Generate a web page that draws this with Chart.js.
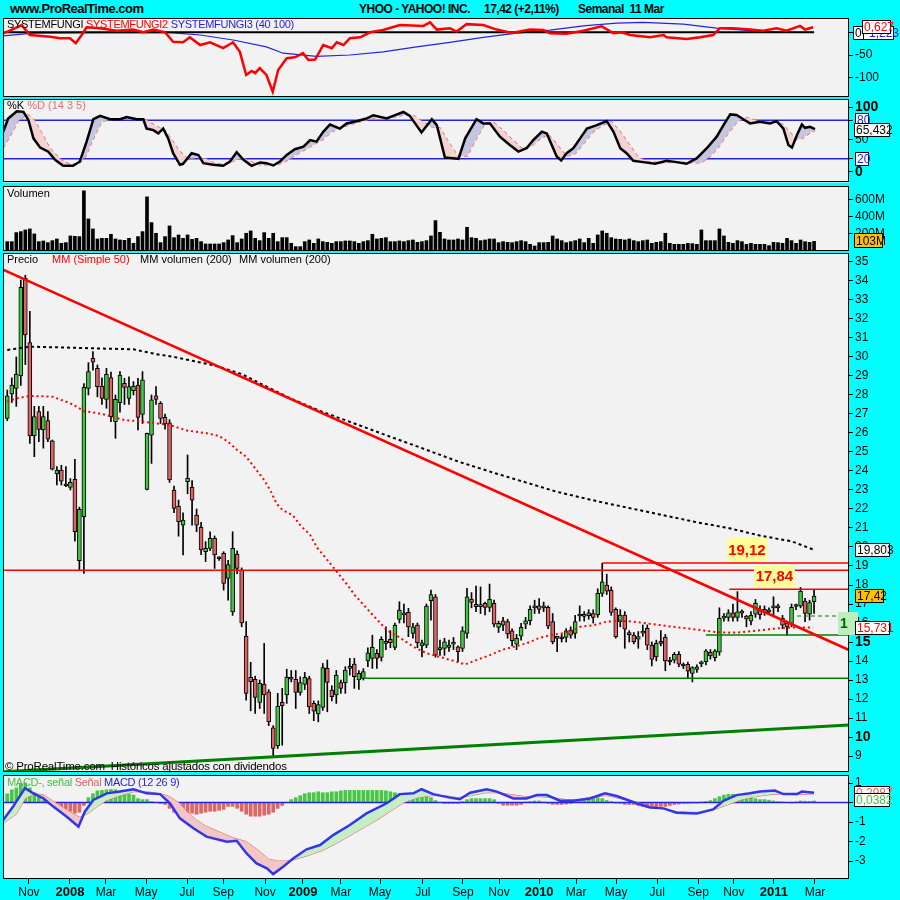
<!DOCTYPE html>
<html lang="es">
<head>
<meta charset="UTF-8">
<title>YHOO - YAHOO! INC. Semanal</title>
<script src="https://cdn.jsdelivr.net/npm/chart.js"></script>
<style>
  html, body { margin: 0; padding: 0; }
  body { background: #00ffff; width: 900px; height: 900px; position: relative; overflow: hidden;
         font-family: Arial, "Liberation Sans", sans-serif; }
  canvas { position: absolute; left: 0; }
  .lbl { position: absolute; white-space: pre; font-size: 11px; line-height: 13px; z-index: 5; }
  .tight { letter-spacing: -0.3px; }
  .hdr { position: absolute; top: 1px; white-space: pre; font-weight: bold; font-size: 12px;
         line-height: 16px; letter-spacing: -0.5px; }
</style>
</head>
<body>
<div class="hdr" style="left:10px;font-size:13px">www.ProRealTime.com</div>
<div class="hdr" style="left:359px">YHOO - YAHOO! INC.</div>
<div class="hdr" style="left:484px">17,42 (+2,11%)</div>
<div class="hdr" style="left:578px">Semanal  11 Mar</div>

<canvas id="cFungi" width="900" height="99" style="top:8px"></canvas>
<canvas id="cStoch" width="900" height="104" style="top:89px"></canvas>
<canvas id="cVol" width="900" height="85" style="top:176px"></canvas>
<canvas id="cPrice" width="900" height="539" style="top:243px"></canvas>
<canvas id="cMacd" width="900" height="135" style="top:765px"></canvas>

<div class="lbl tight" style="left:7px;top:18px">SYSTEMFUNGI <span style="color:#ff0000">SYSTEMFUNGI2</span> <span style="color:#2424e0">SYSTEMFUNGI3 (40 100)</span></div>
<div class="lbl" style="left:7px;top:99px">%K <span style="color:#e07070">%D (14 3 5)</span></div>
<div class="lbl" style="left:7px;top:187px">Volumen</div>
<div class="lbl" style="left:7px;top:253px">Precio</div>
<div class="lbl" style="left:52px;top:253px;color:#ff0000">MM (Simple 50)</div>
<div class="lbl" style="left:140px;top:253px">MM volumen (200)</div>
<div class="lbl" style="left:239px;top:253px">MM volumen (200)</div>
<div class="lbl" style="left:5px;top:760px;font-size:11.5px;letter-spacing:-0.2px">© ProRealTime.com  Históricos ajustados con dividendos</div>
<div class="lbl tight" style="left:7px;top:776px"><span style="color:#40c040">MACD-, señal</span> <span style="color:#e06060">Señal</span> <span style="color:#2424e0">MACD (12 26 9)</span></div>

<script>
// weekly candles, index 0 = first week of Oct 2007, index 179 = week of 7 Mar 2011
const opens = [
  26.77,28.05,28.35,29.0,34.14,30.75,25.84,27.12,26.16,26.65,
  25.58,23.84,24.05,23.26,23.14,23.56,19.28,21.6,28.35,29.93,
  29.4,28.47,27.77,28.91,26.6,27.6,28.61,27.82,28.23,28.52,
  26.98,23.03,25.89,27.95,27.56,26.82,26.54,23.0,22.15,21.15,
  23.44,23.14,21.68,21.03,19.75,19.93,20.45,19.42,19.66,18.35,
  16.59,19.63,18.79,15.31,13.14,13.03,11.82,12.79,12.38,10.49,
  9.54,11.82,12.21,13.14,13.03,12.35,12.77,13.08,11.77,11.21,
  11.56,13.61,12.47,12.21,12.86,12.86,13.61,13.84,13.0,13.08,
  14.0,14.14,14.4,14.19,14.93,15.14,14.72,16.19,16.43,16.56,
  15.45,15.89,14.8,14.84,17.17,17.38,14.6,14.66,14.71,14.89,
  14.75,14.66,15.45,17.26,16.98,16.86,17.03,16.82,17.03,15.77,
  16.12,16.07,15.59,14.89,15.31,15.94,16.12,16.8,16.91,16.8,
  16.82,16.07,15.19,15.19,15.24,15.63,15.45,16.37,16.37,16.38,
  16.5,16.42,17.56,17.99,17.73,16.72,16.07,16.42,15.42,15.36,
  15.15,15.46,15.72,14.84,14.22,14.95,15.25,13.97,14.05,14.35,
  13.83,13.83,13.35,13.56,13.85,13.97,14.46,14.18,14.46,16.25,
  16.3,16.54,16.29,16.54,16.37,16.1,16.47,16.68,16.59,16.59,
  16.8,16.82,16.24,15.98,15.98,16.87,16.89,17.15,16.47,17.12
];
const highs = [
  28.26,28.9,30.0,34.05,34.3,32.4,27.4,27.4,27.4,27.12,
  25.63,24.23,24.3,24.23,23.6,24.61,22.1,28.6,29.7,30.28,
  29.58,28.9,29.4,29.2,28.0,29.23,28.88,28.96,28.7,28.88,
  29.23,26.0,28.0,28.44,27.65,27.0,26.7,23.2,22.47,21.8,
  24.84,23.5,22.0,21.3,20.28,20.8,20.58,19.5,19.75,19.3,
  20.8,19.8,18.9,16.07,13.93,13.2,13.0,14.93,12.5,10.6,
  12.3,12.56,13.57,13.5,13.5,13.17,13.4,13.2,11.9,11.9,
  13.87,14.05,12.7,13.5,13.0,13.7,14.14,14.14,13.5,13.6,
  14.7,15.36,14.6,15.28,15.8,15.6,16.0,17.12,17.0,16.77,
  15.98,16.0,15.1,17.0,17.73,17.5,15.1,15.2,15.1,15.24,
  14.8,15.8,17.82,17.6,17.94,17.9,17.1,18.05,17.2,16.1,
  16.3,16.2,15.7,15.4,15.98,16.3,16.9,17.2,17.29,17.1,
  16.9,16.5,15.3,15.4,15.7,15.8,16.4,16.9,16.6,16.7,
  16.7,17.8,19.14,18.57,17.9,16.8,16.7,16.6,15.6,15.5,
  15.55,15.9,15.9,15.0,15.1,15.6,15.4,14.2,14.45,14.5,
  13.9,13.95,13.7,13.8,14.0,14.6,14.6,14.6,16.8,16.5,
  16.7,17.0,17.65,16.7,16.4,16.6,17.24,16.9,16.9,16.8,
  17.38,17.0,16.4,16.1,17.0,17.0,17.87,17.3,17.2,17.77
];
const lows = [
  26.65,27.6,27.4,28.5,29.6,25.45,24.75,25.54,25.2,25.54,
  24.05,23.26,23.26,23.17,23.0,20.3,18.79,18.61,28.0,29.3,
  27.9,27.5,27.3,26.6,25.72,27.1,27.5,27.5,28.0,26.16,
  26.5,23.0,24.4,27.5,26.5,26.2,23.4,21.8,20.57,19.58,
  22.8,21.15,20.8,19.6,19.23,19.8,18.87,19.3,17.73,17.2,
  16.4,18.6,15.8,11.94,11.38,11.24,11.5,11.24,10.6,8.96,
  9.4,9.57,11.77,12.9,11.5,12.2,12.5,11.24,10.86,10.8,
  11.4,11.33,11.9,11.77,12.3,12.3,13.26,12.56,12.5,13.0,
  13.7,13.61,13.61,14.0,14.6,14.7,14.6,16.0,16.0,15.28,
  15.2,14.7,14.22,14.7,16.15,14.2,14.3,14.3,14.5,14.6,
  13.96,14.5,15.2,16.8,16.6,16.5,16.42,16.6,15.8,15.5,
  15.6,15.2,14.8,14.6,15.1,15.7,15.9,16.5,16.5,16.6,
  15.7,14.9,14.49,15.0,15.0,15.2,15.2,16.1,16.1,16.2,
  16.0,16.3,17.4,17.5,16.4,15.2,15.8,14.67,15.0,14.9,
  14.67,15.3,14.6,13.74,14.0,14.8,13.49,13.8,13.9,13.7,
  13.6,13.09,12.9,13.4,13.7,13.8,14.1,14.0,14.3,16.1,
  16.1,16.1,16.1,16.3,15.8,15.9,16.3,16.2,16.4,16.5,
  16.33,16.6,15.7,15.36,15.8,16.7,16.8,16.07,16.15,16.5
];
const closes = [
  27.95,28.52,29.1,33.67,31.16,25.84,26.86,26.19,26.86,25.67,
  24.09,24.05,23.47,23.21,23.4,20.8,21.98,28.4,29.23,29.72,
  28.44,27.82,29.09,26.86,27.77,29.05,28.4,28.44,28.47,26.82,
  28.79,25.98,27.74,27.77,26.77,26.47,23.53,22.03,21.33,21.42,
  23.61,22.47,21.15,19.84,19.93,20.45,19.58,19.38,18.08,19.08,
  19.93,18.87,16.01,12.29,12.91,12.08,12.82,12.21,10.8,9.4,
  11.63,11.65,13.14,13.05,12.35,12.86,13.14,11.59,11.36,11.71,
  13.66,12.87,12.12,13.26,12.56,13.52,13.63,13.17,13.35,13.44,
  14.43,14.72,14.14,15.14,14.95,14.96,15.89,16.68,16.45,15.8,
  15.8,14.96,14.96,16.89,17.5,14.31,14.62,15.01,14.84,14.91,
  14.49,15.59,17.38,17.08,16.86,16.88,16.82,17.24,15.94,15.98,
  15.89,15.42,15.07,15.19,15.77,16.12,16.72,16.82,16.72,16.82,
  15.84,15.01,15.21,15.17,15.59,15.36,16.07,16.39,16.35,16.54,
  16.3,17.56,18.17,17.68,16.56,15.28,16.42,15.67,15.39,15.02,
  15.28,15.58,14.84,14.09,14.93,14.93,14.0,13.95,14.35,13.83,
  13.74,13.47,13.65,13.7,13.86,14.53,14.27,14.53,16.25,16.37,
  16.54,16.3,16.59,16.52,16.21,16.4,17.03,16.42,16.72,16.68,
  16.82,16.8,15.89,15.8,16.82,16.89,17.68,16.5,17.07,17.42
];
// volume in millions
const volumes = [
  100,100,208,220,240,252,192,100,108,88,
  112,132,80,88,168,164,160,708,372,252,
  132,140,140,188,132,120,116,140,80,160,
  220,636,328,200,88,160,288,148,180,140,
  180,128,140,100,72,72,72,72,88,120,
  172,88,132,200,228,140,112,208,140,200,
  100,148,148,80,40,40,100,120,80,132,
  100,92,80,100,100,108,108,100,80,100,
  112,188,132,140,148,100,100,108,100,112,
  120,92,100,112,168,352,212,132,120,120,
  132,120,272,148,140,112,120,132,132,88,
  100,92,88,100,112,100,68,48,88,88,
  92,168,132,112,88,100,112,132,88,140,
  80,180,228,200,148,132,128,120,132,112,
  100,112,120,80,92,100,200,80,68,68,
  68,80,76,68,240,112,112,112,252,168,
  92,80,112,100,68,80,68,68,68,52,
  92,88,80,140,112,80,120,100,92,103
];
// MACD histogram (MACD - signal), one bar per week
const hist = [
  0.45,0.65,0.75,0.95,1.0,0.75,0.5,0.3,0.1,0.05,
  -0.05,-0.1,-0.25,-0.35,-0.45,-0.55,-0.5,-0.15,0.25,0.45,
  0.6,0.62,0.65,0.67,0.65,0.6,0.5,0.43,0.38,0.2,
  0.15,0.15,0.05,0,-0.05,-0.1,-0.3,-0.5,-0.6,-0.6,
  -0.55,-0.55,-0.6,-0.55,-0.5,-0.45,-0.45,-0.4,-0.35,-0.2,
  -0.2,-0.3,-0.45,-0.6,-0.7,-0.7,-0.7,-0.65,-0.6,-0.5,
  -0.3,-0.15,0,0.15,0.25,0.35,0.45,0.5,0.5,0.55,
  0.5,0.5,0.55,0.55,0.6,0.62,0.62,0.62,0.62,0.62,
  0.62,0.62,0.62,0.62,0.6,0.55,0.5,0.45,0.4,0.35,
  0.3,0.3,0.35,0.3,0.25,0.1,0,-0.05,-0.05,-0.05,
  -0.05,0.05,0.15,0.2,0.2,0.2,0.2,0.2,0.15,-0.05,
  -0.14,-0.14,-0.14,-0.14,-0.1,0.03,0.05,0.08,0.08,0.03,
  -0.05,-0.1,-0.1,-0.1,-0.08,-0.05,0.03,0.05,0.1,0.15,
  0.2,0.25,0.2,0.1,0.05,-0.03,-0.05,-0.1,-0.1,-0.1,
  -0.15,-0.2,-0.25,-0.25,-0.25,-0.2,-0.2,-0.15,-0.1,-0.08,
  -0.05,-0.05,-0.03,-0.03,0.03,0.05,0.1,0.2,0.3,0.38,
  0.42,0.42,0.4,0.35,0.3,0.25,0.2,0.15,0.15,0.12,
  0.08,0.05,0.03,0,-0.02,0.03,0.08,0.06,0.06,0.08
];

// moving averages (week index, value)
const ma50Idx = [0,2,5,10,14,17,21,26,30,36,40,44,47,49,51,53,55,57,58.5,59.8,61.1,63.3,65,67.2,68.7,70.9,73.1,75.3,77.1,79.4,82,84.2,87.1,90.1,93.1,95.3,99,101.6,104.1,107.1,109.7,112.3,115.2,117.8,120.4,123,125.6,127.1,130.1,133,136,138.9,141.9,144.8,147.8,150.7,153.7,156.6,159.6,162.6,165.5,168.5,171.4,174.4,178.8];
const ma50Val = [27.65,27.82,27.95,27.91,27.56,27.16,27.0,26.68,26.6,26.42,26.12,26.0,25.84,25.54,25.1,24.75,24.14,23.52,22.91,22.26,21.94,21.68,21.15,20.63,19.98,19.35,18.7,18.05,17.47,16.86,16.19,15.63,15.23,14.75,14.4,14.26,14.01,13.82,14.05,14.31,14.58,14.75,14.93,15.19,15.36,15.45,15.6,15.8,15.89,16.07,16.12,16.07,15.98,15.89,15.8,15.72,15.63,15.54,15.49,15.51,15.58,15.66,15.73,15.77,15.77];
const ma200Idx = [0,5,12,20,28,33,37,41,46,52,57,63,70,77,85,92,100,108,115,122,131,137,145,153,160,167,174,178.8];
const ma200Val = [30.37,30.54,30.5,30.45,30.4,30.15,30.0,29.8,29.55,29.1,28.5,27.8,27.1,26.5,25.8,25.2,24.5,23.9,23.4,22.9,22.4,22.1,21.7,21.3,21.0,20.6,20.3,19.87];

// drawn lines on the price panel
const trendRedIdx = [-0.95, 186.75], trendRedVal = [34.6, 14.58];
const trendGreenIdx = [-0.95, 186.75], trendGreenVal = [8.17, 10.63];
const levelVal  = [18.78, 19.16, 17.78, 13.09, 15.37, 16.37];
const levelFrom = [-0.95, 132, 160.2, 79.4, 155, 175.2];

// SYSTEMFUNGI panel
const f1Idx = [-0.95, 179], f1Val = [0, 0];
const f2Idx = [-0.9,0.6,3.2,5,9.5,11.7,13.9,15.2,16.5,17.6,20.6,24.3,27.9,30.2,32.4,35,36.8,39,40.5,42.8,45,47.9,50.1,51.6,53,54.2,55,56,57.5,58.9,60.1,62,63.8,65.6,66.8,68.3,70.1,72,73.1,74.6,76,78.3,80.5,83.4,87.1,92.3,93.8,95.3,98.2,99.7,101.9,105.6,108.6,111.9,116,118.9,120.4,124.1,127.8,131.9,134.5,136.3,138.2,142.6,145.6,146.3,150.7,153.7,156.6,158.1,161.1,164.8,167.7,170.7,172.9,175.9,177,178.8];
const f2Val = [-2,3.5,16,-6,-10,-13,-13,-24,-6,11,9,3.5,6,0,6,0,-21,-22,-11,-28,-22,-35,-22,-43,-94,-85,-90,-79,-94,-131,-83,-57,-55,-46,-61,-60,-28,-35,-22,-28,-13,-11,0,5,16,14,22,6,9,1.5,18,16,6,-1.5,6,5,-2,-3,3.5,13,-2,0,-6,-11,-6,-11,-15,-11,-6,9,9,6,3.5,9,3.5,14,6,11];
const f3Idx = [-0.9,5.7,20.6,35.4,42.8,50.1,57.5,61.2,68.6,76,83.4,90.8,98.2,105.6,113,120.4,127.8,135.2,141.1,150,157.4,164.8,172.2,179];
const f3Val = [-8,-2,-1,0,-6,-17,-32,-46,-53,-50,-43,-32,-22,-11,-2,5,14,20,22,18,9,3.5,0,0];

// stochastic %K / %D
const kIdx = [-0.9,0.2,2.1,3.6,4.7,5.8,7.3,9.1,10.6,12.4,14.6,16.1,17.6,19.1,20.6,22.8,25,26.5,28.7,30.2,30.9,32.4,33.5,34.6,35.7,36.8,38.3,39,40.9,42.4,43.5,45.7,47.9,49.4,50.9,52.4,54.2,56.1,57.5,59,60.5,62,63.8,65.7,67.2,68.6,70.1,71.6,73.8,75.3,77.5,79.7,81.2,84.2,85.6,87.9,89.3,91.9,94.2,95.3,97.1,98.2,100.1,101.6,104.1,105.6,107.1,109.3,111.5,113.4,115.2,116.7,118.6,119.7,121.9,122.9,124.1,125.6,127.1,128.6,130.8,133,134.5,136,137.4,138.9,141.1,143.7,146.3,148.5,150.7,153,155.2,157.4,158.9,160.4,161.8,163.3,164.8,167,169.2,170.7,172.2,173.3,174.1,175.2,176.3,177,178.1,179.2];
const kVal = [62,82.6,93.8,93,80,51.8,37.4,31,18.5,9.2,9.2,15.9,46.7,81.5,86.7,81.5,81.5,85,81.5,81.5,67,64.6,59.5,67,51.8,28.7,10.8,12.3,28.7,26,13.3,10.8,9.2,15.9,30.3,18.5,9.2,14.4,13.3,9.7,15.9,26,34.9,38.9,49.2,46.7,62,73.3,67,75,78.5,82.6,87.7,82.6,86.7,92.8,86.7,61,81.5,72.3,22,21.5,20,51.8,81.5,75,75,54.4,41.5,31.3,36.5,49.2,62,59.5,23.6,17.4,28.7,36.5,51.8,67,72.3,78.5,62,36.5,28.7,17,14.9,12.3,17,14.9,12.3,21,36.5,54.4,72.3,89,88,81.5,75,77.4,75,78.5,67,41.5,37.4,57,73.3,68.2,69.7,66.2];
const dIdx = [-0.9,1,2.5,4.5,6,7.5,9.5,12,14,16,17.5,19,21,23.5,26,28.5,30.5,32.5,35,36.5,38,40,42,44,46,48,50,52,54,56,58,60,62,64,66,68,70,72,74,76,78,80,82,84,86,88,90,92,94,96,98,100,102,104,106,108,110,112,114,116,118,120,122,124,126,128,130,132,134,136,138,140,142,145,148,151,154,156,158,160,162,164,166,168,170,172,173.5,175,176.5,178,179.2];
const dVal = [37,60,80,89,80,62,36,18,11,13,25,50,78,81,82,83,81,73,64,50,33,20,22,20,13,11,16,22,16,11,11,11,17,26,34,42,50,62,68,73,77,81,84,84,85,88,88,78,70,68,45,24,24,50,75,76,64,50,37,38,50,58,42,24,28,45,62,72,78,62,42,22,16,14,15,14,14,24,40,60,78,84,80,77,77,74,62,50,52,60,64];

// MACD line and signal
const macdIdx = [-0.9,1.3,3.9,5.8,8,10.2,13.2,15.8,17.2,19.1,22.1,25,28,30.9,33.9,36.1,38.3,41.3,44.2,48.7,50.9,53.1,55.3,57.6,59,61.2,63.5,66.4,69.4,72.3,76,79.7,84.2,87.1,90.1,91.9,94.5,98.2,100.4,102.7,106.4,108.6,112.3,115.2,117.5,119.7,122.6,125.6,129.3,132.6,135.2,139.6,142.6,145.6,148.5,153,156.6,158.9,161.8,164.8,167,170.3,172.2,175.2,176.3,179];
const macdVal = [-0.9,-0.21,0.73,0.47,0.21,-0.21,-0.73,-1.24,-0.47,0.13,0.47,0.56,0.68,0.47,0.43,-0.04,-0.81,-1.32,-1.75,-2.01,-1.96,-2.61,-3.12,-3.37,-3.67,-3.29,-2.86,-2.4,-2.18,-1.67,-1.15,-0.56,-0.04,0.43,0.47,0.68,0.43,0.25,0.17,0.5,0.68,0.56,0.21,0.21,0.38,0.38,0.09,0.09,0.21,0.47,0.33,-0.04,-0.25,-0.3,-0.52,-0.56,-0.35,0.09,0.38,0.47,0.56,0.61,0.43,0.43,0.56,0.5];
const sigIdx = [-0.9,2,4,6,8,10,12,14,16,18,20,22,25,28,31,34,36,38,40,42,44,47,50,53,56,58,60,62,64,67,70,73,76,79,82,85,88,91,94,97,100,103,106,109,112,115,118,121,124,127,130,133,136,139,142,145,148,151,154,157,160,163,166,169,172,175,177,179];
const sigVal = [-1.07,-0.6,0.2,0.45,0.4,0.1,-0.2,-0.5,-0.75,-0.55,-0.2,0.1,0.35,0.55,0.55,0.45,0.3,0,-0.5,-0.9,-1.2,-1.5,-1.8,-2.0,-2.5,-2.9,-3.0,-3.0,-2.9,-2.7,-2.45,-2.1,-1.7,-1.3,-0.9,-0.45,0,0.25,0.35,0.35,0.25,0.35,0.5,0.5,0.4,0.3,0.3,0.25,0.15,0.15,0.3,0.35,0.2,0.05,-0.15,-0.3,-0.45,-0.5,-0.5,-0.35,-0.1,0.15,0.3,0.4,0.45,0.4,0.42,0.45];

// x axis labels
const tickPos = [4.8,13.9,21.9,30.8,39.9,47.9,57.2,65.6,74.0,82.7,92.2,101.1,109.1,118.0,126.2,135.1,144.2,153.3,161.2,170.1,179.2];
const tickLabels = ['Nov','2008','Mar','May','Jul','Sep','Nov','2009','Mar','May','Jul','Sep','Nov','2010','Mar','May','Jul','Sep','Nov','2011','Mar'];

// ---------------------------------------------------------------
const FONT = 'Arial, "Liberation Sans", sans-serif';
Chart.defaults.font.family = FONT;
Chart.defaults.font.size = 12;
Chart.defaults.color = '#000';

const X_MIN = -0.95, X_MAX = 186.75;
const UP = '#40c640', DOWN = '#dc6464';
const weeks = closes.map((c, i) => i);
const pts = (xs, ys) => xs.map((x, k) => ({ x, y: ys[k] }));
const hline = (v, from) => [{ x: from === undefined ? X_MIN : from, y: v }, { x: X_MAX, y: v }];
const tickVal = c => (c && c.tick) ? c.tick.value : null;

// panel background, border, value tags on the right and yellow notes
function makeFrame(tags, notes) {
  return {
    id: 'frame',
    beforeDraw(chart) {
      const { ctx, chartArea: a } = chart;
      ctx.save();
      ctx.fillStyle = '#f2f2f2';
      ctx.fillRect(a.left, a.top, a.width, a.height);
      ctx.restore();
    },
    afterDraw(chart) {
      const { ctx, chartArea: a } = chart;
      const xs = chart.scales.x, ys = chart.scales.y;
      ctx.save();
      (notes || []).forEach(n => {
        const px = xs.getPixelForValue(n.i), py = ys.getPixelForValue(n.v);
        ctx.fillStyle = '#ffff99';
        ctx.fillRect(Math.round(px - n.w / 2), Math.round(py - n.h / 2), n.w, n.h);
        ctx.fillStyle = '#ff0000';
        ctx.font = 'bold 15px ' + FONT;
        ctx.textAlign = 'center';
        ctx.textBaseline = 'middle';
        ctx.fillText(n.text, px, py + 1);
      });
      ctx.strokeStyle = '#000';
      ctx.lineWidth = 1;
      ctx.strokeRect(Math.round(a.left) + 0.5, Math.round(a.top) + 0.5,
                     Math.round(a.width) - 1, Math.round(a.height) - 1);
      (tags || []).forEach(t => {
        const h = t.h || 14;
        const py = Math.round(ys.getPixelForValue(t.v) - h / 2);
        ctx.fillStyle = t.fill || '#ffffff';
        ctx.fillRect(t.x, py, t.w, h);
        if (!t.noBorder) {
          ctx.strokeStyle = '#000';
          ctx.strokeRect(t.x + 0.5, py + 0.5, t.w - 1, h - 1);
        }
        ctx.fillStyle = t.color || '#000';
        ctx.font = (t.bold ? 'bold ' : '') + (t.size || 12) + 'px ' + FONT;
        ctx.textAlign = 'left';
        ctx.textBaseline = 'middle';
        ctx.fillText(t.text, t.x + 2, py + h / 2 + 1);
      });
      ctx.restore();
    }
  };
}

function yAxis(min, max, values, fmt, font, color) {
  return {
    position: 'right', min, max,
    afterFit: s => { s.width = 51; },
    afterBuildTicks: s => { s.ticks = values.map(v => ({ value: v })); },
    grid: { drawOnChartArea: false, drawTicks: true, tickLength: 4, color: '#000', offset: false },
    border: { display: false },
    ticks: { autoSkip: false, padding: 2, callback: fmt, font: font || { size: 12 }, color: color || '#000' }
  };
}

function panel(id, cfg) {
  const xScale = { type: 'linear', min: X_MIN, max: X_MAX, offset: false, display: false,
                   grid: { offset: false } };
  if (cfg.xAxis) {
    Object.assign(xScale, {
      display: true, position: 'bottom',
      afterFit: s => { s.height = 21; },
      afterBuildTicks: s => { s.ticks = tickPos.map(v => ({ value: v })); },
      grid: { display: true, drawOnChartArea: false, drawTicks: true, tickLength: 5,
              tickWidth: 1, tickColor: '#000', color: '#000', offset: false },
      border: { display: false },
      ticks: {
        autoSkip: false, maxRotation: 0, minRotation: 0, padding: 1, color: '#000',
        callback: (v, i) => tickLabels[i],
        font: c => (c && c.index !== undefined && /^\d{4}$/.test(tickLabels[c.index]))
          ? { size: 13, weight: 'bold' } : { size: 12 }
      }
    });
  }
  return new Chart(document.getElementById(id), {
    type: 'line',
    data: { datasets: cfg.datasets },
    options: {
      responsive: false, animation: false, devicePixelRatio: 1, events: [],
      layout: { padding: { left: 3, right: 0, top: 10, bottom: cfg.xAxis ? 0 : 10 } },
      plugins: { legend: { display: false }, tooltip: { enabled: false } },
      elements: { point: { radius: 0 }, line: { tension: 0 } },
      scales: { x: xScale, y: cfg.y }
    },
    plugins: [makeFrame(cfg.tags, cfg.notes)]
  });
}

// SYSTEMFUNGI
panel('cFungi', {
  y: yAxis(-142.5, 31.5, [-100, -50, 0], v => String(v)),
  datasets: [
    { data: pts(f2Idx, f2Val), borderColor: '#ff0000', borderWidth: 2.5, order: 1 },
    { data: pts(f1Idx, f1Val), borderColor: '#000000', borderWidth: 2, order: 2 },
    { data: pts(f3Idx, f3Val), borderColor: '#2424e0', borderWidth: 1.2, order: 3 }
  ],
  tags: [
    { v: -1.5, text: '-1,223', x: 863, w: 31, color: '#2424e0' },
    { v: -1.5, text: '0', x: 853, w: 11 },
    { v: 11, text: '0,627', x: 862, w: 29, color: '#ff0000' }
  ]
});

// Stochastic
panel('cStoch', {
  y: yAxis(-16.9, 112.3, [0, 20, 50, 80, 100], v => String(v),
    c => (tickVal(c) === 0 || tickVal(c) === 100) ? { size: 14, weight: 'bold' } : { size: 12 },
    c => (tickVal(c) === 20 || tickVal(c) === 80) ? '#2424e0' : '#000'),
  datasets: [
    { data: pts(kIdx, kVal), borderColor: '#000000', borderWidth: 2.5, order: 1,
      fill: { target: 1, above: '#c3c6de', below: '#f2d2d2' } },
    { data: pts(dIdx, dVal), borderColor: '#e87474', borderWidth: 1.5, borderDash: [4, 3], order: 2 },
    { data: hline(80), borderColor: '#2424e0', borderWidth: 1.5, order: 3 },
    { data: hline(20), borderColor: '#2424e0', borderWidth: 1.5, order: 3 }
  ],
  tags: [
    { v: 80, text: '80', x: 855, w: 14, color: '#2424e0' },
    { v: 20, text: '20', x: 855, w: 14, color: '#2424e0' },
    { v: 65.432, text: '65,432', x: 854, w: 36 }
  ]
});

// Volume
panel('cVol', {
  y: yAxis(-12, 766, [200, 400, 600], v => v + 'M'),
  datasets: [
    { type: 'bar', data: weeks.map(i => ({ x: i, y: volumes[i] })), backgroundColor: '#000',
      barThickness: 3, grouped: false }
  ],
  tags: [{ v: 113, text: '103M', x: 854, w: 29, h: 15, fill: '#ffc000' }]
});

// Price
const levelColor = ['#ff0000', '#ff0000', '#ff0000', '#008000', '#008000', '#008000'];
const levelWidth = [1.5, 1.5, 1.5, 1.5, 1.5, 1.2];
const levelDash = [[], [], [], [], [], [4, 3]];
panel('cPrice', {
  y: yAxis(8.16, 35.47, Array.from({ length: 27 }, (_, k) => 9 + k), v => String(v),
    c => (tickVal(c) === 15 || tickVal(c) === 10) ? { size: 14, weight: 'bold' } : { size: 12 }),
  datasets: [
    { type: 'bar', data: weeks.map(i => ({ x: i, y: [lows[i], highs[i]] })), backgroundColor: '#000',
      barThickness: 1, grouped: false, order: 20 },
    { type: 'bar', data: weeks.map(i => ({ x: i, y: [opens[i], closes[i]] })),
      backgroundColor: c => closes[c.dataIndex] >= opens[c.dataIndex] ? UP : DOWN,
      borderColor: '#000', borderWidth: 1, borderSkipped: false, barThickness: 4,
      minBarLength: 2, grouped: false, order: 19 },
    { data: pts(trendGreenIdx, trendGreenVal), borderColor: '#008000', borderWidth: 3, order: 8 },
    ...levelVal.map((v, k) => ({ data: hline(v, levelFrom[k]), borderColor: levelColor[k],
      borderWidth: levelWidth[k], borderDash: levelDash[k], order: 7 })),
    { data: pts(ma200Idx, ma200Val), borderColor: '#000000', borderWidth: 2, borderDash: [3, 3], order: 6 },
    { data: pts(ma50Idx, ma50Val), borderColor: '#ff0000', borderWidth: 2, borderDash: [2, 3], order: 5 },
    { data: pts(trendRedIdx, trendRedVal), borderColor: '#ff0000', borderWidth: 2.5, order: 4 }
  ],
  notes: [
    { i: 164.1, v: 19.87, text: '19,12', w: 40, h: 23 },
    { i: 170.2, v: 18.47, text: '17,84', w: 41, h: 22 }
  ],
  tags: [
    { v: 19.85, text: '19,803', x: 855, w: 35 },
    { v: 17.42, text: '17,42', x: 855, w: 29, fill: '#ffc000' },
    { v: 15.97, text: '1', x: 838, w: 20, h: 23, fill: '#bdefbd', color: '#006400', bold: true, size: 14, noBorder: true },
    { v: 15.731, text: '15,731', x: 855, w: 35, color: '#ff0000' }
  ]
});

// MACD
panel('cMacd', {
  xAxis: true,
  y: yAxis(-3.92, 1.41, [-3, -2, -1, 0, 1], v => String(v)),
  datasets: [
    { data: pts(macdIdx, macdVal), borderColor: '#3535e8', borderWidth: 2.5, order: 1,
      fill: { target: 1, above: '#c6eec6', below: '#f3c6c6' } },
    { data: pts(sigIdx, sigVal), borderColor: '#e06464', borderWidth: 1, order: 2 },
    { data: hline(0), borderColor: '#2424e0', borderWidth: 1.5, order: 3 },
    { type: 'bar', data: weeks.map(i => ({ x: i, y: hist[i] })),
      backgroundColor: c => hist[c.dataIndex] >= 0 ? '#46c846' : '#e06666',
      barThickness: 3, grouped: false, order: 10 }
  ],
  tags: [
    { v: 0.49, text: '0,2987', x: 854, w: 36, color: '#e06464' },
    { v: 0.13, text: '0,0382', x: 854, w: 36, color: '#3cc83c' }
  ]
});
</script>
</body>
</html>
